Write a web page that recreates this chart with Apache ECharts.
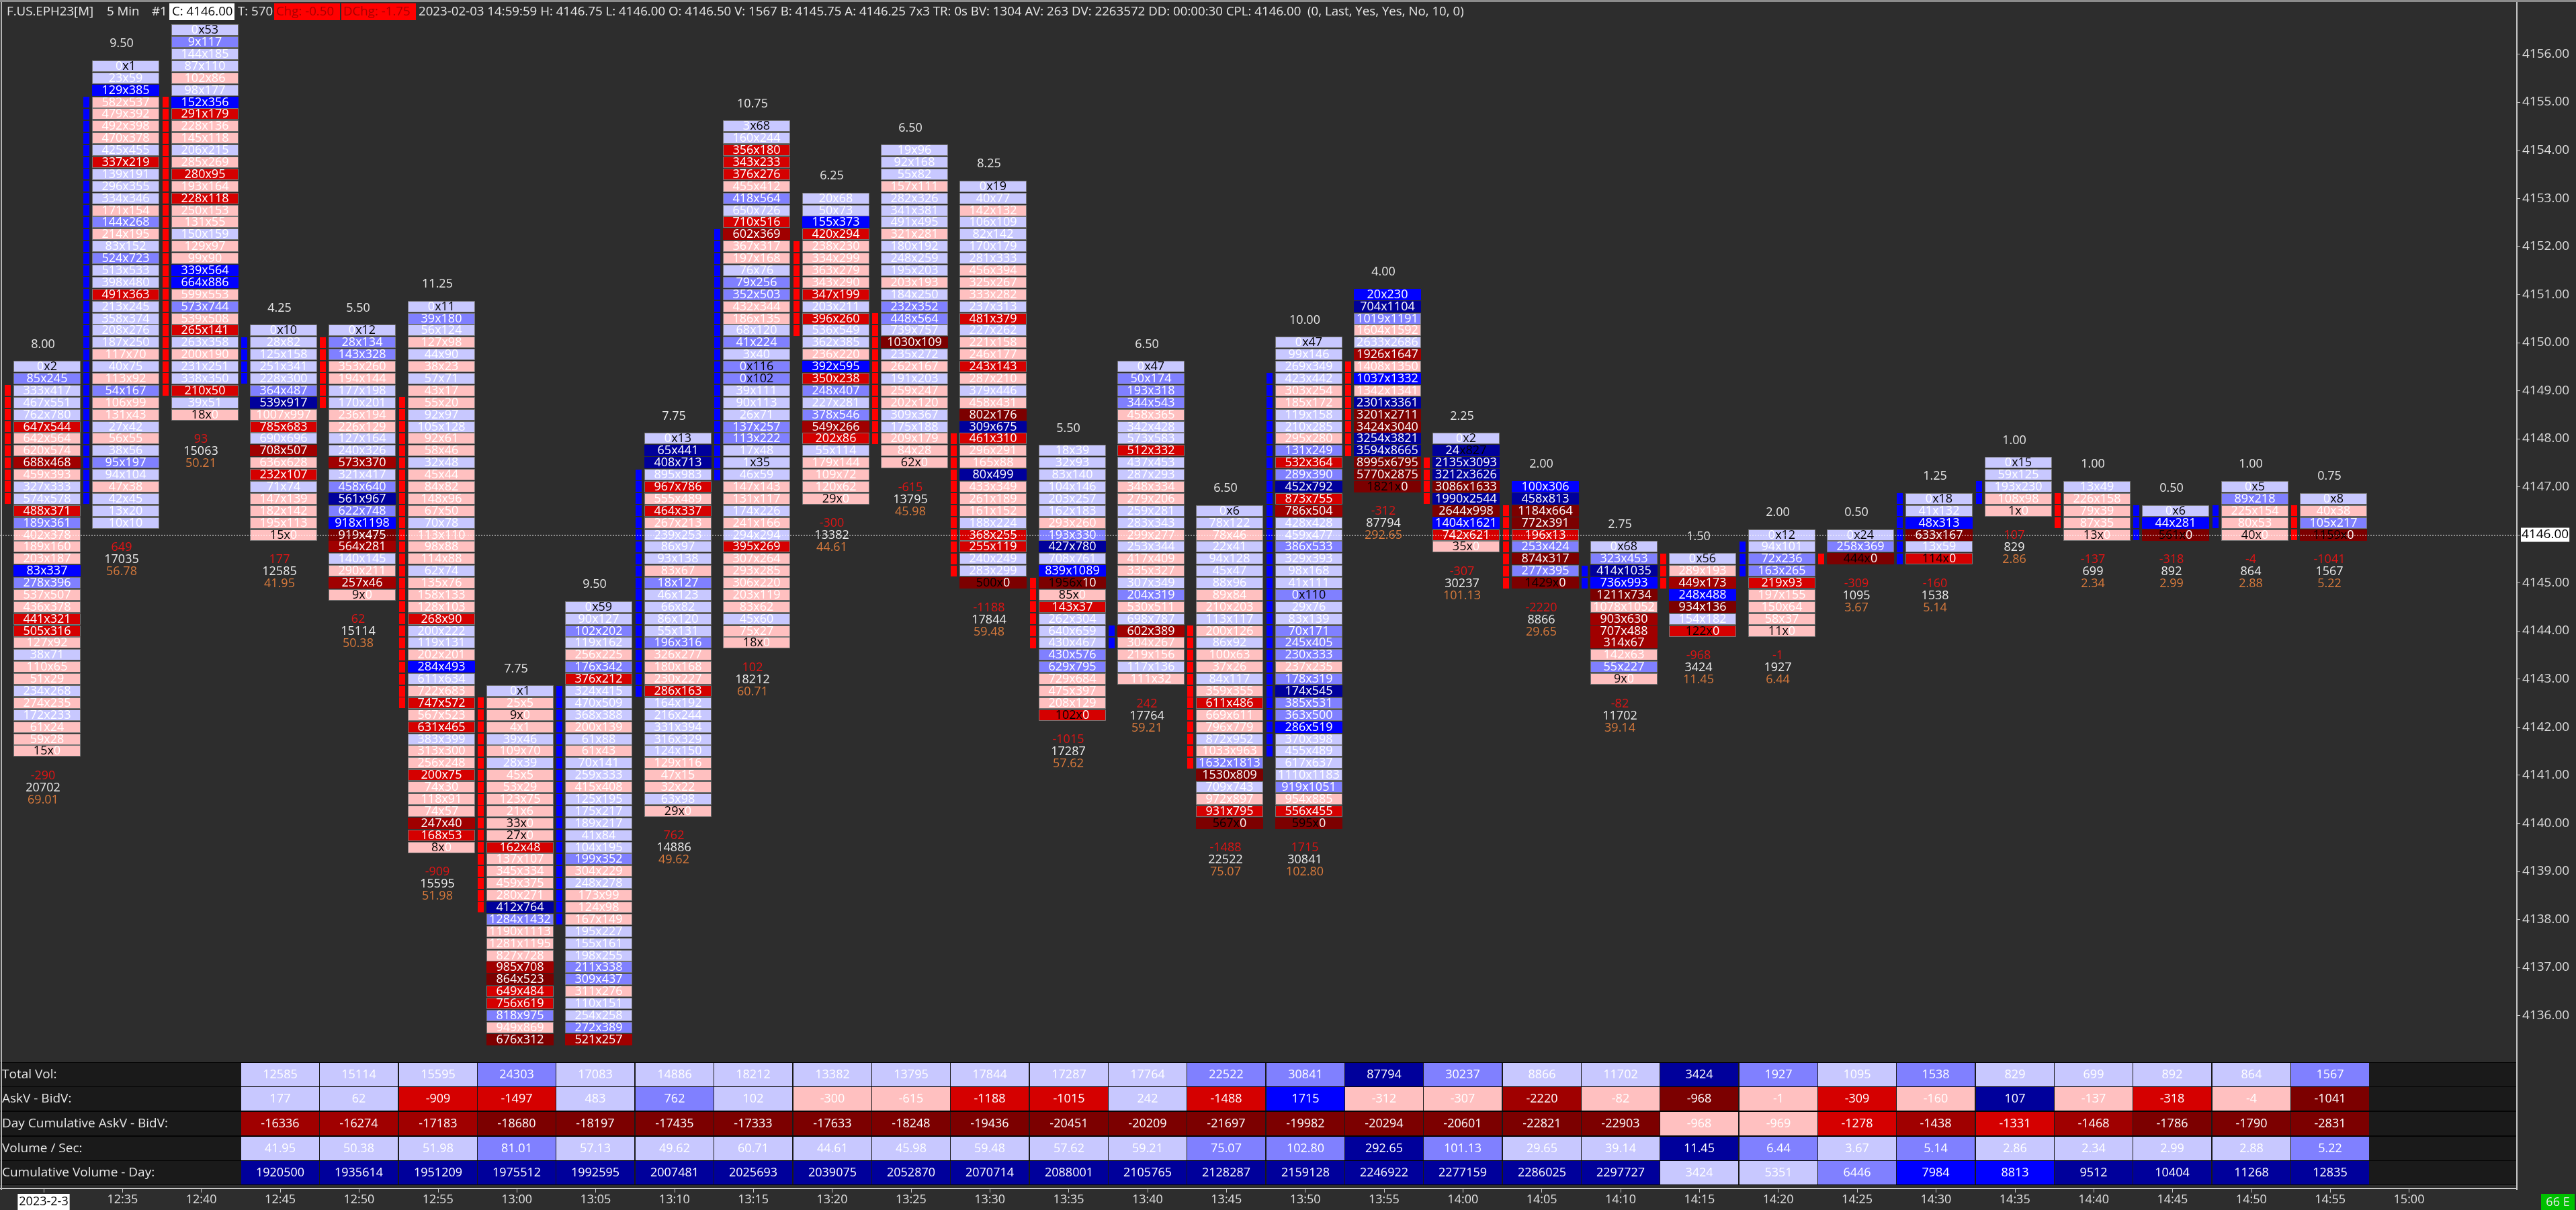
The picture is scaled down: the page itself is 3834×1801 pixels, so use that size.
<!DOCTYPE html>
<html>
<head>
<meta charset="utf-8">
<title>F.US.EPH23 footprint</title>
<script src="https://cdn.jsdelivr.net/npm/echarts@6/dist/echarts.min.js"></script>
<style>
  html, body { margin: 0; padding: 0; background: #2d2d2d; }
  #chart { width: 3834px; height: 1801px; }
</style>
</head>
<body>
<div id="chart"></div>
<script>
const FONT = '"Open Sans"';

const timeLabels = ['2023-2-3','12:35','12:40','12:45','12:50','12:55','13:00','13:05','13:10','13:15','13:20','13:25','13:30','13:35','13:40','13:45','13:50','13:55','14:00','14:05','14:10','14:15','14:20','14:25','14:30','14:35','14:40','14:45','14:50','14:55','15:00'];
const priceTicks = [4136,4137,4138,4139,4140,4141,4142,4143,4144,4145,4146,4147,4148,4149,4150,4151,4152,4153,4154,4155,4156];
const lastPrice = 4146;

// price of the first row of every bar, rows go down in 0.25 steps
const topPrice = [4149.5,4155.75,4156.5,4150.25,4150.25,4150.75,4142.75,4144.5,4148,4154.5,4153,4154,4153.25,4147.75,4149.5,4146.5,4150,4151,4148,4147,4145.75,4145.5,4146,4146,4146.75,4147.5,4147,4146.5,4147,4146.75];

const footprint = [
  ['0x2','85x245','333x417','467x551','762x780','647x544','642x564','620x574','688x468','459x393','327x333','574x578','488x371','189x361','402x378','189x160','203x187','83x337','278x396','537x507','436x378','441x321','505x316','127x92','38x71','110x65','51x29','234x268','274x235','172x233','61x24','59x28','15x0'],
  ['0x1','23x59','129x385','582x537','479x392','492x398','470x378','425x455','337x219','139x191','296x355','334x346','171x154','144x268','214x195','83x152','524x723','513x533','398x480','491x363','213x245','358x374','208x276','187x250','117x70','40x75','113x92','54x167','106x99','131x43','27x42','56x55','38x56','95x197','94x104','47x38','42x45','13x20','10x10'],
  ['0x53','9x117','144x185','87x110','102x86','98x177','152x356','291x179','228x136','145x118','206x215','285x269','280x95','193x164','228x118','250x153','131x55','150x159','129x97','99x90','339x564','664x886','599x553','573x744','539x508','265x141','263x358','200x190','231x251','338x350','210x50','39x51','18x0'],
  ['0x10','28x82','125x158','251x341','228x300','364x487','539x917','1007x997','785x683','690x696','708x507','636x628','232x107','71x74','147x139','182x142','195x113','15x0'],
  ['0x12','28x134','143x328','353x260','194x144','177x198','170x201','236x194','226x129','127x164','240x326','573x370','321x417','458x640','561x967','622x748','918x1198','919x475','564x281','140x145','290x211','257x46','9x0'],
  ['0x11','39x180','56x124','127x98','44x90','38x23','57x71','43x17','55x20','92x97','105x128','92x61','58x46','32x48','45x44','84x82','148x96','67x50','70x78','113x110','98x88','114x88','62x74','135x76','158x133','128x103','268x90','200x222','119x131','202x201','284x493','611x634','722x683','747x572','567x523','631x465','383x399','313x300','256x248','200x75','74x30','118x91','74x57','247x40','168x53','8x0'],
  ['0x1','25x5','9x0','4x1','39x46','109x70','28x39','45x5','53x29','123x75','21x6','33x0','27x0','162x48','137x107','345x334','459x375','280x271','412x764','1284x1432','1190x1113','1281x1195','827x728','985x708','864x523','649x484','756x619','818x975','949x869','676x312'],
  ['0x59','90x127','102x202','119x162','256x225','176x342','376x212','324x415','470x509','368x388','200x139','61x88','61x43','70x141','259x333','415x408','125x195','175x217','189x217','41x84','104x195','199x352','304x229','248x278','173x99','124x98','167x149','195x227','155x161','198x255','211x338','309x437','311x276','110x151','254x258','272x389','521x257'],
  ['0x13','65x441','408x713','895x983','967x786','555x489','464x337','267x213','239x253','86x97','93x138','83x67','18x127','46x123','66x82','86x120','55x131','196x316','326x277','180x168','230x227','286x163','164x192','216x244','331x394','316x329','124x150','129x116','47x15','32x22','63x98','29x0'],
  ['3x68','160x244','356x180','343x233','376x276','455x412','418x564','650x726','710x516','602x369','367x317','197x168','76x76','79x256','352x503','432x344','186x135','68x120','41x224','3x40','0x116','0x102','39x111','90x113','26x71','137x257','113x222','17x48','1x35','46x59','147x143','131x117','174x226','241x166','294x294','395x269','307x264','293x285','306x220','203x119','83x62','45x60','75x27','18x0'],
  ['20x68','50x73','155x373','420x294','238x230','334x299','363x279','343x290','347x199','203x211','396x260','536x549','362x385','236x220','392x595','350x238','248x407','227x281','378x546','549x266','202x86','55x114','179x144','109x72','120x62','29x0'],
  ['19x96','92x168','55x82','157x111','282x326','341x381','491x495','321x281','180x192','248x259','195x203','203x193','184x250','232x352','448x564','739x757','1030x109','235x272','262x167','191x203','259x247','202x120','309x367','175x188','209x179','84x28','62x0'],
  ['0x19','40x77','142x132','106x109','82x142','170x179','281x333','456x394','325x267','333x282','237x313','481x379','227x262','221x158','246x177','243x143','287x210','379x446','458x431','802x176','309x675','461x310','296x291','165x88','80x499','433x349','261x189','161x152','188x224','368x255','255x119','240x249','283x299','500x0'],
  ['18x39','32x93','83x140','104x146','203x257','162x183','293x260','193x330','427x780','708x761','839x1089','1956x10','85x0','143x37','262x304','640x659','430x467','430x576','629x795','729x684','475x397','208x129','102x0'],
  ['0x47','50x174','193x318','344x543','458x365','342x428','573x583','512x332','437x453','287x293','348x334','279x206','259x281','283x343','299x277','253x344','417x409','335x327','307x349','204x319','530x511','698x787','602x389','304x267','219x156','117x136','111x32'],
  ['0x6','78x122','78x46','22x41','94x128','45x47','88x96','89x84','210x203','113x117','200x126','86x92','100x63','37x26','84x117','359x355','611x486','669x611','796x779','872x952','1033x963','1632x1813','1530x809','709x743','972x897','931x795','567x0'],
  ['0x47','99x146','269x349','423x442','303x254','185x172','119x158','210x285','295x280','131x249','532x364','289x390','452x792','873x755','786x504','428x428','459x477','386x533','329x393','98x168','41x111','0x110','29x76','83x139','70x171','245x405','230x333','237x235','178x319','174x545','385x531','363x500','286x519','370x398','455x489','617x637','1110x1183','919x1051','954x885','556x455','595x0'],
  ['20x230','704x1104','1019x1191','1604x1592','2633x2686','1926x1647','1408x1350','1037x1332','1342x1341','2301x3361','3201x2711','3424x3040','3254x3821','3594x8665','8995x6795','5770x2875','1821x0'],
  ['0x2','24x827','2135x3093','3212x3626','3086x1633','1990x2544','2644x998','1404x1621','742x621','35x0'],
  ['100x306','458x813','1184x664','772x391','196x13','253x424','874x317','277x395','1429x0'],
  ['0x68','323x453','414x1035','736x993','1211x734','1078x1052','903x630','707x488','314x67','142x63','55x227','9x0'],
  ['0x56','289x193','449x173','248x488','934x136','154x182','122x0'],
  ['0x12','94x101','72x236','163x265','219x93','197x155','150x64','58x37','11x0'],
  ['0x24','258x369','444x0'],
  ['0x18','41x132','48x313','633x167','13x59','114x0'],
  ['0x15','59x125','193x230','108x98','1x0'],
  ['13x49','226x158','79x39','87x35','13x0'],
  ['0x6','44x281','561x0'],
  ['0x5','89x218','225x154','80x53','40x0'],
  ['0x8','40x38','105x217','1159x0']
];

// candle body strip left of each bar
const bodyTop = [4149,4155,4155,4150,4150,4148.75,4142.5,4142.75,4147.25,4152.25,4152,4150.5,4148,4145,4144,4144,4149.25,4149.5,4147.5,4146.5,4145.25,4145.5,4145.75,4145.5,4146.75,4147,4146.75,4146.5,4146.5,4146.5];
const bodyBottom = [4146.75,4146.75,4149,4149.25,4148.75,4142.5,4138.25,4138,4142.75,4147.25,4150.25,4148,4145.25,4143.75,4143.75,4141.25,4141.5,4147.75,4146.75,4145,4145,4145,4145.25,4145.5,4145.5,4146.75,4146.25,4146,4146.25,4146];
const bodyColor = ['r','b','r','b','r','r','r','b','b','b','r','r','r','r','b','r','b','r','r','r','b','r','b','r','b','b','r','b','b','r'];

const barRange = ['8.00','9.50',null,'4.25','5.50','11.25','7.75','9.50','7.75','10.75','6.25','6.50','8.25','5.50','6.50','6.50','10.00','4.00','2.25','2.00','2.75','1.50','2.00','0.50','1.25','1.00','1.00','0.50','1.00','0.75'];
const barDelta = ['-290','649','93','177','62','-909',null,null,'762','102','-300','-615','-1188','-1015','242','-1488','1715','-312','-307','-2220','-82','-968','-1','-309','-160','107','-137','-318','-4','-1041'];
const barVolume = ['20702','17035','15063','12585','15114','15595',null,null,'14886','18212','13382','13795','17844','17287','17764','22522','30841','87794','30237','8866','11702','3424','1927','1095','1538','829','699','892','864','1567'];
const barVolSec = ['69.01','56.78','50.21','41.95','50.38','51.98',null,null,'49.62','60.71','44.61','45.98','59.48','57.62','59.21','75.07','102.80','292.65','101.13','29.65','39.14','11.45','6.44','3.67','5.14','2.86','2.34','2.99','2.88','5.22'];

// bottom table, first filled column is 12:45
const tableFirstCol = 3;
const tableNames = ['Total Vol:','AskV - BidV:','Day Cumulative AskV - BidV:','Volume / Sec:','Cumulative Volume - Day:'];
const totalVol = ['12585','15114','15595','24303','17083','14886','18212','13382','13795','17844','17287','17764','22522','30841','87794','30237','8866','11702','3424','1927','1095','1538','829','699','892','864','1567'];
const totalVolLevel = [1,1,1,2,1,1,1,1,1,1,1,1,2,2,4,2,1,1,4,2,1,2,1,1,1,1,2];
const askBid = ['177','62','-909','-1497','483','762','102','-300','-615','-1188','-1015','242','-1488','1715','-312','-307','-2220','-82','-968','-1','-309','-160','107','-137','-318','-4','-1041'];
const askBidLevel = [1,1,-2,-2,1,2,1,-1,-1,-2,-2,1,-2,3,-1,-1,-3,-1,-4,-1,-2,-1,4,-1,-2,-1,-4];
const dayCum = ['-16336','-16274','-17183','-18680','-18197','-17435','-17333','-17633','-18248','-19436','-20451','-20209','-21697','-19982','-20294','-20601','-22821','-22903','-968','-969','-1278','-1438','-1331','-1468','-1786','-1790','-2831'];
const dayCumLevel = [-3,-3,-3,-4,-4,-4,-4,-4,-4,-4,-4,-4,-4,-4,-4,-4,-4,-4,-1,-1,-2,-3,-2,-3,-4,-4,-4];
const volSec = ['41.95','50.38','51.98','81.01','57.13','49.62','60.71','44.61','45.98','59.48','57.62','59.21','75.07','102.80','292.65','101.13','29.65','39.14','11.45','6.44','3.67','5.14','2.86','2.34','2.99','2.88','5.22'];
const volSecLevel = [1,1,1,2,1,1,1,1,1,1,1,1,2,2,4,2,1,1,4,2,1,2,1,1,1,1,2];
const cumVol = ['1920500','1935614','1951209','1975512','1992595','2007481','2025693','2039075','2052870','2070714','2088001','2105765','2128287','2159128','2246922','2277159','2286025','2297727','3424','5351','6446','7984','8813','9512','10404','11268','12835'];
const cumVolLevel = [4,4,4,4,4,4,4,4,4,4,4,4,4,4,4,4,4,4,1,1,2,3,3,4,4,4,4];

const tableText = [totalVol, askBid, dayCum, volSec, cumVol];
const tableLevel = [totalVolLevel, askBidLevel, dayCumLevel, volSecLevel, cumVolLevel];

const blues = ['#c8c8ff', '#8080ff', '#0000ff', '#00009b'];
const reds = ['#ffc0c0', '#d50000', '#a00000', '#7c0000'];

function levelColor(level) {
  return level > 0 ? blues[level - 1] : reds[-level - 1];
}

// colour of a cell follows ask - bid
function cellLevel(bid, ask) {
  const d = ask - bid;
  const n = Math.abs(d);
  const step = n < 100 ? 1 : n < 200 ? 2 : n < 300 ? 3 : 4;
  return d >= 0 ? step : -step;
}

const cellData = [];
footprint.forEach((rows, col) => {
  rows.forEach((txt, i) => {
    const parts = txt.split('x');
    cellData.push([col, topPrice[col] - i * 0.25, +parts[0], +parts[1]]);
  });
});

const bodyData = [];
bodyTop.forEach((top, col) => {
  for (let p = top; p >= bodyBottom[col]; p -= 0.25) {
    bodyData.push([col, p, bodyColor[col] === 'b' ? 1 : 0]);
  }
});

const labelItems = [];
footprint.forEach((rows, col) => {
  const bottom = topPrice[col] - (rows.length - 1) * 0.25;
  if (barRange[col]) labelItems.push({ col, price: topPrice[col], dy: -33, text: barRange[col], color: '#e6e6e6' });
  if (barDelta[col]) labelItems.push({ col, price: bottom, dy: 37, text: barDelta[col], color: '#e01414' });
  if (barVolume[col]) labelItems.push({ col, price: bottom, dy: 55, text: barVolume[col], color: '#ececec' });
  if (barVolSec[col]) labelItems.push({ col, price: bottom, dy: 73, text: barVolSec[col], color: '#d87a3c' });
});

const tableData = [];
tableText.forEach((list, row) => {
  list.forEach((txt, i) => tableData.push([tableFirstCol + i, row]));
});
const tableItems = [];
tableText.forEach((list, row) => {
  list.forEach((txt, i) => tableItems.push({ text: txt, level: tableLevel[row][i] }));
});

function renderCell(params, api) {
  const bid = api.value(2);
  const ask = api.value(3);
  const pt = api.coord([api.value(0), api.value(1)]);
  const x = Math.round(pt[0]) - 45;
  const y = Math.round(pt[1] - 8.5);
  const level = cellLevel(bid, ask);
  const base = { fontSize: 18, fontFamily: FONT };
  let text;
  if (ask === 0 || bid >= ask * 20) {
    text = '{k|' + bid + 'x}{w|' + ask + '}';
  } else if (bid === 0 || ask >= bid * 20) {
    text = '{w|' + bid + '}{k|x' + ask + '}';
  } else {
    text = '{w|' + bid + 'x' + ask + '}';
  }
  return {
    type: 'group',
    children: [
      {
        type: 'rect',
        shape: { x: x + 0.5, y: y + 0.5, width: 99, height: 16 },
        style: { fill: levelColor(level), stroke: Math.abs(level) < 3 ? '#767676' : levelColor(level), lineWidth: 1 }
      },
      {
        type: 'text',
        style: {
          text: text,
          x: x + 50,
          y: y + 9,
          align: 'center',
          verticalAlign: 'middle',
          rich: {
            w: Object.assign({ fill: '#ffffff' }, base),
            k: Object.assign({ fill: '#000000' }, base)
          }
        }
      }
    ]
  };
}

function renderBody(params, api) {
  const pt = api.coord([api.value(0), api.value(1)]);
  return {
    type: 'rect',
    shape: { x: Math.round(pt[0]) - 58, y: Math.round(pt[1] - 8), width: 9, height: 16 },
    style: { fill: api.value(2) ? '#0000ff' : '#ff0000' }
  };
}

function renderLabel(params, api) {
  const item = labelItems[params.dataIndex];
  const pt = api.coord([item.col, item.price]);
  return {
    type: 'text',
    style: {
      text: item.text,
      x: Math.round(pt[0]) - 1,
      y: Math.round(pt[1]) + item.dy,
      align: 'center',
      verticalAlign: 'middle',
      fill: item.color,
      font: '18px ' + FONT
    }
  };
}

function renderRowBack(params, api) {
  const pt = api.coord([0, api.value(0)]);
  const cs = params.coordSys;
  return {
    type: 'rect',
    shape: { x: cs.x, y: Math.round(pt[1] - 17.5), width: cs.width, height: 35 },
    style: { fill: '#1a1a1a' }
  };
}

function renderTableCell(params, api) {
  const item = tableItems[params.dataIndex];
  const pt = api.coord([api.value(0), api.value(1)]);
  const x = Math.round(pt[0]) - 58;
  const y = Math.round(pt[1] - 17.5);
  return {
    type: 'group',
    children: [
      { type: 'rect', shape: { x: x, y: y, width: 116, height: 35 }, style: { fill: levelColor(item.level) } },
      {
        type: 'text',
        style: { text: item.text, x: x + 58, y: y + 18, align: 'center', verticalAlign: 'middle', fill: '#ffffff', font: '18px ' + FONT }
      }
    ]
  };
}

const headerBoxes = [
  { x: 252, width: 97, fill: '#ffffff' },
  { x: 408, width: 98, fill: '#ff0000' },
  { x: 508, width: 111, fill: '#ff0000' }
];
const headerTexts = [
  { x: 10, text: 'F.US.EPH23[M]', fill: '#e8e8e8' },
  { x: 159, text: '5 Min', fill: '#e8e8e8' },
  { x: 226, text: '#1', fill: '#e8e8e8' },
  { x: 256, text: 'C: 4146.00', fill: '#000000' },
  { x: 354, text: 'T: 570', fill: '#e8e8e8' },
  { x: 411, text: 'Chg: -0.50', fill: '#a80000' },
  { x: 511, text: 'DChg: -1.75', fill: '#a80000' },
  { x: 623, text: '2023-02-03 14:59:59 H: 4146.75 L: 4146.00 O: 4146.50 V: 1567 B: 4145.75 A: 4146.25 7x3 TR: 0s BV: 1304 AV: 263 DV: 2263572 DD: 00:00:30 CPL: 4146.00  (0, Last, Yes, Yes, No, 10, 0)', fill: '#e8e8e8' }
];

const frame = [
  { type: 'rect', z: 100, shape: { x: 0, y: 0, width: 3834, height: 33 }, style: { fill: '#2d2d2d' } },
  { type: 'rect', z: 101, shape: { x: 0, y: 0, width: 3834, height: 3 }, style: { fill: '#8c8c8c' } },
  { type: 'rect', z: 101, shape: { x: 1, y: 3, width: 2, height: 1768 }, style: { fill: '#b4b4b4' } },
  { type: 'rect', z: 101, shape: { x: 3745, y: 3, width: 2, height: 1768 }, style: { fill: '#c8c8c8' } },
  { type: 'rect', z: 101, shape: { x: 3782, y: 1777, width: 50, height: 24 }, style: { fill: '#00c000' } },
  { type: 'text', z: 102, style: { text: '66 E', x: 3807, y: 1790, align: 'center', verticalAlign: 'middle', fill: '#e8e8e8', font: '18px ' + FONT } }
];
headerBoxes.forEach(b => frame.push({ type: 'rect', z: 101, shape: { x: b.x, y: 5, width: b.width, height: 25 }, style: { fill: b.fill } }));
headerTexts.forEach(t => frame.push({ type: 'text', z: 102, style: { text: t.text, x: t.x, y: 18, verticalAlign: 'middle', fill: t.fill, font: '18.7px ' + FONT } }));

const xMin = -65 / 117.35;
const xMax = (3746 - 65) / 117.35;

const chart = echarts.init(document.getElementById('chart'));
chart.setOption({
  backgroundColor: '#2d2d2d',
  animation: false,
  textStyle: { fontFamily: FONT },
  grid: [
    { left: 0, width: 3746, top: 9, height: 1574, containLabel: false },
    { left: 0, width: 3746, top: 1581, height: 184, show: true, backgroundColor: '#050505', borderWidth: 0 }
  ],
  xAxis: [
    { type: 'value', gridIndex: 0, min: xMin, max: xMax, show: false, splitLine: { show: false }, axisLine: { show: false, onZero: false } },
    {
      type: 'value',
      gridIndex: 1,
      min: xMin,
      max: xMax,
      offset: 5,
      position: 'bottom',
      splitLine: { show: false },
      axisLine: { show: true, onZero: false, lineStyle: { color: '#c8c8c8', width: 2 } },
      axisTick: { show: true, length: 6, lineStyle: { color: '#c8c8c8' }, customValues: timeLabels.map((t, i) => i) },
      axisLabel: {
        customValues: timeLabels.map((t, i) => i),
        margin: 8,
        color: '#e0e0e0',
        fontSize: 18,
        fontFamily: FONT,
        formatter: v => (v === 0 ? '{d|' + timeLabels[0] + '}' : timeLabels[v]),
        rich: { d: { backgroundColor: '#ffffff', color: '#000000', fontSize: 18, fontFamily: FONT, padding: [3, 2, 3, 2] } }
      }
    }
  ],
  yAxis: [
    {
      type: 'value',
      gridIndex: 0,
      min: 4135,
      max: 4157,
      position: 'right',
      splitLine: { show: false },
      axisLine: { show: false, onZero: false },
      axisTick: { show: true, length: 5, lineStyle: { color: '#c8c8c8' }, customValues: priceTicks },
      axisLabel: {
        customValues: priceTicks,
        margin: 8,
        color: '#dcdcdc',
        fontSize: 19,
        fontFamily: FONT,
        formatter: v => v.toFixed(2)
      }
    },
    {
      type: 'category',
      gridIndex: 1,
      inverse: true,
      z: 10,
      data: tableNames,
      axisLine: { show: false, onZero: false },
      axisTick: { show: false },
      axisLabel: { inside: true, margin: 3, color: '#e6e6e6', fontSize: 19, fontFamily: FONT }
    }
  ],
  series: [
    {
      name: 'body',
      type: 'custom',
      xAxisIndex: 0,
      yAxisIndex: 0,
      z: 2,
      silent: true,
      renderItem: renderBody,
      data: bodyData
    },
    {
      name: 'footprint',
      type: 'custom',
      xAxisIndex: 0,
      yAxisIndex: 0,
      z: 3,
      silent: true,
      renderItem: renderCell,
      data: cellData,
      markLine: {
        silent: true,
        symbol: 'none',
        z: 6,
        animation: false,
        lineStyle: { type: [2, 2], color: '#ffffff', width: 1 },
        label: {
          position: 'end',
          formatter: () => lastPrice.toFixed(2),
          distance: 6,
          color: '#000000',
          backgroundColor: '#ffffff',
          fontSize: 19,
          fontFamily: FONT,
          padding: [1, 1, 1, 1]
        },
        data: [{ yAxis: lastPrice }]
      }
    },
    {
      name: 'labels',
      type: 'custom',
      xAxisIndex: 0,
      yAxisIndex: 0,
      z: 7,
      silent: true,
      renderItem: renderLabel,
      data: labelItems.map(l => [l.col, l.price])
    },
    {
      name: 'rows',
      type: 'custom',
      xAxisIndex: 1,
      yAxisIndex: 1,
      z: 2,
      silent: true,
      renderItem: renderRowBack,
      encode: { y: 0 },
      data: tableNames.map((n, i) => [i])
    },
    {
      name: 'table',
      type: 'custom',
      xAxisIndex: 1,
      yAxisIndex: 1,
      z: 3,
      silent: true,
      renderItem: renderTableCell,
      data: tableData
    }
  ],
  graphic: frame
});
</script>
</body>
</html>
